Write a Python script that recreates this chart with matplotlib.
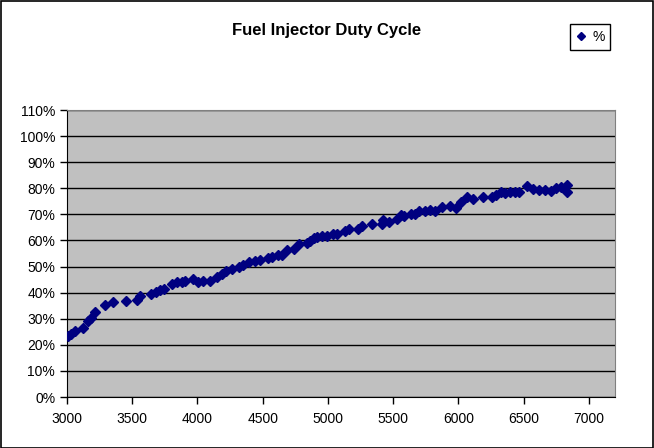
import matplotlib.pyplot as plt
from matplotlib.patches import Rectangle
from matplotlib.ticker import PercentFormatter
import numpy as np

# engine speed (rpm) and injector duty cycle (fraction)
rpm = [3010, 3028, 3061, 3120, 3163, 3184, 3215, 3291, 3355, 3450,
       3534, 3559, 3641, 3680, 3713, 3743, 3802, 3841, 3879, 3904,
       3963, 4006, 4044, 4096, 4147, 4185, 4218, 4262, 4320, 4351,
       4397, 4441, 4479, 4543, 4569, 4619, 4645, 4688, 4742, 4778,
       4837, 4862, 4895, 4913, 4952, 4990, 5041, 5067, 5130, 5163,
       5232, 5258, 5335, 5411, 5419, 5471, 5529, 5559, 5585, 5638,
       5667, 5697, 5741, 5783, 5822, 5871, 5936, 5983, 6022, 6069,
       6113, 6191, 6256, 6287, 6326, 6354, 6398, 6433, 6464, 6529,
       6572, 6614, 6663, 6710, 6744, 6789, 6830, 6830]
duty = [23.4, 24.0, 25.4, 26.3, 29.1, 30.4, 32.5, 35.1, 36.3, 36.9,
        37.2, 38.7, 39.3, 40.3, 41.0, 41.3, 43.2, 44.2, 44.2, 44.4,
        45.1, 44.2, 44.4, 44.4, 46.1, 47.1, 48.3, 49.0, 49.7, 50.6,
        51.8, 52.2, 52.5, 53.4, 53.6, 54.4, 54.4, 56.3, 56.6, 58.6,
        58.9, 59.9, 60.8, 61.4, 61.8, 61.8, 62.5, 62.3, 63.7, 64.2,
        64.4, 65.5, 66.3, 66.4, 68.0, 67.0, 68.4, 69.7, 69.3, 70.0,
        70.3, 71.1, 71.1, 71.8, 71.1, 72.9, 73.3, 72.6, 74.6, 76.5,
        75.9, 76.5, 76.5, 77.4, 78.7, 78.2, 78.7, 78.7, 78.5, 80.7,
        79.8, 79.4, 79.4, 78.9, 80.0, 80.4, 81.1, 78.5]
duty = [d / 100 for d in duty]

x_ticks = np.arange(3000, 7001, 500)
y_ticks = np.arange(0, 1.101, 0.1)

plt.rcParams['font.family'] = ['Liberation Sans', 'DejaVu Sans']

fig = plt.figure(figsize=(6.54, 4.48), dpi=100)
ax = fig.add_axes([67 / 654, (448 - 397) / 448, (615 - 67) / 654, (397 - 110) / 448])
ax.set_facecolor("#C0C0C0")

ax.plot(rpm, duty, linestyle='none', marker='D', markersize=5,
        color="#000080", label="%", zorder=3)

ax.set_xlim(3000, 7200)
ax.set_ylim(0, 1.1)
ax.set_xticks(x_ticks)
ax.set_yticks(y_ticks)
ax.yaxis.set_major_formatter(PercentFormatter(1.0, decimals=0))
ax.tick_params(axis='both', direction='out', length=5, width=1, labelsize=10, colors='black')
ax.tick_params(axis='x', pad=6)
ax.grid(axis='y', color='black', linewidth=1)
ax.set_axisbelow(True)
for s in ['left', 'bottom']:
    ax.spines[s].set_color('black')
for s in ['top', 'right']:
    ax.spines[s].set_color('#808080')

fig.text(327 / 654, 1 - 31 / 448, "Fuel Injector Duty Cycle", ha='center', va='center',
         fontsize=12, fontweight='bold')

leg = fig.legend(loc='center', bbox_to_anchor=(590 / 654, 1 - 37 / 448), fontsize=10,
                 frameon=True, fancybox=False, edgecolor='black', framealpha=1,
                 handlelength=0.8, handletextpad=0.4, borderpad=0.4, markerscale=0.9)
leg.get_frame().set_linewidth(1)

fig.patches.append(Rectangle((0.001, 0.001), 0.997, 0.997, transform=fig.transFigure,
                             fill=False, edgecolor='black', linewidth=1.2))

fig.savefig("out.png", dpi=100)
